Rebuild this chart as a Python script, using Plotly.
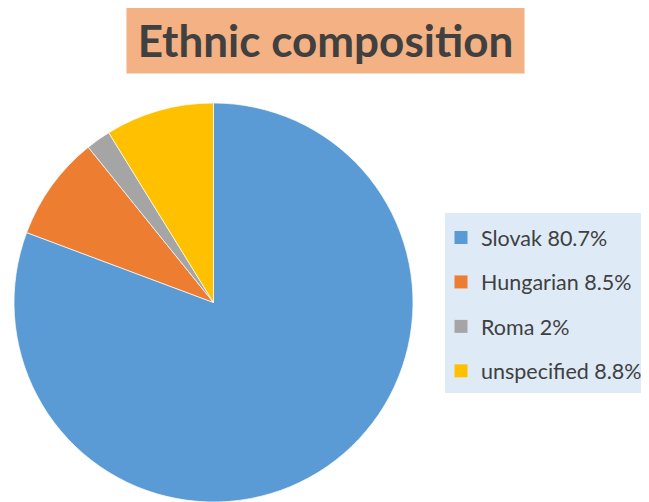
import plotly.graph_objects as go

title_text = "Ethnic composition"
labels = ["Slovak", "Hungarian", "Roma", "unspecified"]
values = [80.7, 8.5, 2, 8.8]
value_text = ["80.7%", "8.5%", "2%", "8.8%"]
colors = ["#5B9BD5", "#ED7D31", "#A5A5A5", "#FFC000"]

# page has an 8px body margin, so the figure is drawn at (8, 8)
OFF = 8
W, H = 649 - OFF, 502 - OFF


def px(x):
    return (x - OFF) / W


def py(y):
    return 1 - (y - OFF) / H


fig = go.Figure()
fig.add_trace(go.Pie(
    labels=labels, values=values, sort=False, direction="clockwise", rotation=0,
    marker=dict(colors=colors, line=dict(color="white", width=0.7)),
    textinfo="none", hoverinfo="label+percent", showlegend=False,
    domain=dict(x=[px(13.5), px(413.5)], y=[0, py(103)]),
))

# legend entries (one group per category so the gap can be set)
for lab, vt, col in zip(labels, value_text, colors):
    fig.add_trace(go.Scatter(
        x=[None], y=[None], mode="markers", name=f"{lab} {vt}",
        legendgroup=lab, marker=dict(symbol="square", size=13, color=col),
        showlegend=True,
    ))

fig.update_layout(
    width=W, height=H,
    margin=dict(l=0, r=0, t=0, b=0),
    paper_bgcolor="white", plot_bgcolor="rgba(0,0,0,0)",
    xaxis=dict(visible=False), yaxis=dict(visible=False),
    showlegend=True,
    legend=dict(
        x=px(441), y=py(217), xanchor="left", yanchor="top",
        bgcolor="rgba(0,0,0,0)", borderwidth=0,
        font=dict(family="Lato, sans-serif", size=21.5, color="#404040"),
        tracegroupgap=13.5, itemwidth=30,
    ),
    shapes=[dict(
        type="rect", xref="paper", yref="paper", layer="below",
        x0=px(445), x1=1.0, y0=py(393), y1=py(213),
        fillcolor="#DEEBF7", line=dict(width=0),
    )],
    annotations=[dict(
        text=f"<b>{title_text}</b>", xref="paper", yref="paper",
        x=px(325.5), y=py(40), xanchor="center", yanchor="middle",
        showarrow=False, width=397, height=66, borderpad=0,
        bgcolor="#F4B183",
        font=dict(family="Lato, sans-serif", size=44, color="#404040"),
    )],
)

fig.write_html("out.html")
